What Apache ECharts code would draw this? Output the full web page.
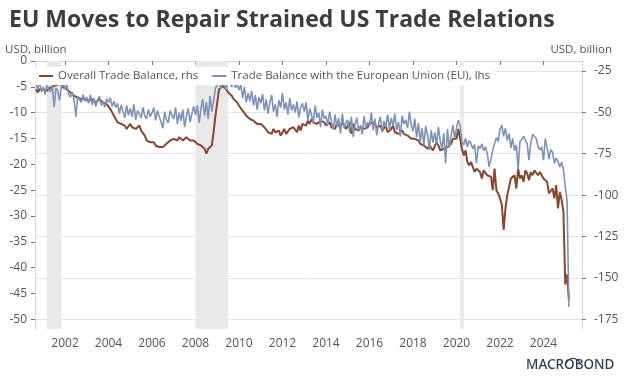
<!DOCTYPE html>
<html><head><meta charset="utf-8">
<script src="https://cdn.jsdelivr.net/npm/echarts@6/dist/echarts.min.js"></script>
<style>html,body{margin:0;padding:0;background:#fff}#c{width:624px;height:384px}</style>
</head><body><div id="c"></div>
<script>
// ---- Data ----
const titleText = 'EU Moves to Repair Strained US Trade Relations';
const unitLabel = 'USD, billion';
const seriesNames = ['Overall Trade Balance, rhs', 'Trade Balance with the European Union (EU), lhs'];
const startYear = 2000, startMonth = 9; // monthly data from Sep 2000 to Mar 2025

// Overall trade balance (rhs), USD bn, monthly
const overallTradeBalance = [
  -36, -38, -36, -37,                                              // 2000 Sep-Dec
  -36, -35, -37, -36, -35, -36, -34, -35, -33, -34, -33, -35,      // 2001
  -35, -36, -37, -38, -39, -40, -40, -41, -41, -42, -43, -42,      // 2002
  -42, -43, -44, -42, -43, -44, -43, -42, -43, -44, -43, -45,      // 2003
  -46, -48, -50, -52, -54, -56, -55, -57, -56, -58, -60, -59,      // 2004
  -57, -59, -58, -60, -59, -58, -61, -62, -64, -67, -66, -68,      // 2005
  -69, -68, -70, -69, -71, -70, -71, -70, -69, -68, -67, -66,      // 2006
  -66, -65, -67, -65, -66, -67, -66, -65, -66, -67, -68, -67,      // 2007
  -68, -69, -70, -70, -71, -72, -75, -72, -71, -70, -62, -52,      // 2008
  -44, -36, -35, -34, -35, -36, -38, -39, -40, -42, -43, -44,      // 2009
  -46, -47, -49, -50, -52, -53, -54, -53, -55, -56, -57, -58,      // 2010
  -57, -58, -59, -60, -62, -61, -63, -60, -62, -63, -61, -64,      // 2011
  -64, -60, -63, -62, -60, -61, -59, -60, -62, -58, -61, -57,      // 2012
  -56, -58, -55, -57, -54, -56, -55, -57, -56, -55, -54, -56,      // 2013
  -58, -57, -56, -59, -58, -60, -57, -58, -59, -56, -58, -60,      // 2014
  -58, -56, -63, -57, -60, -59, -61, -59, -58, -60, -61, -59,      // 2015
  -57, -58, -56, -57, -59, -60, -58, -61, -60, -58, -62, -61,      // 2016
  -60, -58, -62, -61, -63, -62, -61, -63, -62, -64, -65, -66,      // 2017
  -67, -66, -65, -67, -69, -68, -70, -71, -72, -70, -71, -73,      // 2018
  -72, -68, -70, -73, -74, -72, -73, -71, -70, -69, -66, -67,      // 2019
  -66, -60, -61, -72, -76, -73, -80, -82, -80, -81, -86, -84,      // 2020
  -83, -86, -90, -85, -86, -88, -87, -89, -97, -84, -97, -99,      // 2021
  -102, -106, -121, -108, -100, -95, -90, -91, -88, -96, -84, -90, // 2022
  -88, -92, -85, -87, -91, -86, -88, -85, -84, -88, -86, -85,      // 2023
  -90, -91, -92, -99, -98, -96, -102, -94, -108, -98, -103, -110,  // 2024
  -154, -148, -163                                                 // 2025 Jan-Mar
];

// Trade balance with the EU (lhs), USD bn, monthly
const euTradeBalance = [
  -4.5, -5.5, -4.0, -6.0,                                                        // 2000 Sep-Dec
  -5.0, -6.5, -4.5, -5.5, -6.0, -4.8, -8.9, -5.2, -5.8, -7.6, -5.0, -4.2,        // 2001
  -5.5, -4.5, -6.5, -7.0, -6.0, -7.5, -10.8, -6.8, -7.5, -8.0, -6.5, -7.8,       // 2002
  -7.0, -8.2, -6.5, -8.5, -7.2, -8.8, -7.5, -6.8, -8.6, -7.9, -8.9, -7.3,        // 2003
  -8.0, -7.2, -8.8, -7.8, -9.0, -8.2, -10.2, -8.5, -9.8, -11.0, -8.6, -10.5,     // 2004
  -9.2, -10.8, -8.4, -11.4, -9.6, -10.2, -11.0, -9.0, -10.6, -11.2, -9.4, -10.8, // 2005
  -10.0, -9.0, -11.5, -9.6, -10.8, -11.8, -13.0, -9.8, -11.4, -12.0, -9.6, -10.5,// 2006
  -11.2, -9.0, -12.2, -10.0, -11.6, -9.4, -12.8, -10.6, -9.2, -11.8, -10.2, -8.8,// 2007
  -10.4, -8.6, -12.0, -9.2, -7.4, -10.6, -8.0, -11.2, -6.8, -9.8, -7.6, -5.2,    // 2008
  -4.8, -3.6, -5.4, -3.2, -4.6, -5.6, -3.8, -4.2, -5.0, -3.4, -5.2, -4.4,        // 2009
  -5.6, -4.6, -7.2, -5.0, -8.0, -6.2, -7.8, -5.8, -8.6, -6.6, -9.4, -7.0,        // 2010
  -8.2, -6.4, -9.6, -7.4, -10.2, -8.0, -6.6, -9.8, -8.4, -10.8, -7.6, -9.0,      // 2011
  -6.2, -9.4, -8.0, -10.4, -7.2, -9.6, -8.4, -10.0, -7.8, -10.9, -9.0, -8.2,     // 2012
  -9.8, -8.0, -11.6, -9.2, -10.4, -12.2, -8.6, -11.0, -10.0, -12.8, -9.4, -11.2, // 2013
  -10.6, -12.4, -9.8, -11.8, -13.2, -10.4, -12.8, -11.0, -14.0, -10.2, -13.0, -12.0, // 2014
  -11.4, -13.8, -10.8, -14.7, -12.2, -11.0, -13.6, -12.4, -14.2, -10.6, -13.0, -11.8, // 2015
  -12.6, -10.0, -13.4, -11.2, -14.4, -12.0, -10.8, -13.8, -11.6, -12.8, -10.4, -13.2, // 2016
  -11.0, -12.6, -10.2, -13.4, -11.8, -14.6, -10.6, -12.2, -11.4, -13.0, -9.8, -12.4,  // 2017
  -13.6, -11.2, -14.8, -12.0, -15.6, -13.0, -16.4, -12.6, -14.2, -17.2, -13.4, -15.8, // 2018
  -13.8, -16.2, -12.8, -15.4, -17.0, -14.0, -19.8, -13.2, -16.8, -14.6, -12.4, -15.0, // 2019
  -13.0, -11.4, -12.5, -15.6, -16.2, -15.0, -16.6, -15.4, -16.0, -17.0, -16.2, -19.8, // 2020
  -16.4, -17.0, -16.0, -17.4, -16.6, -18.0, -20.5, -19.0, -17.2, -16.0, -14.8, -15.6, // 2021
  -13.2, -12.4, -14.6, -13.0, -15.4, -14.0, -16.8, -15.0, -17.4, -16.2, -21.0, -15.6, // 2022
  -15.2, -14.6, -14.7, -16.0, -19.2, -15.8, -14.2, -14.0, -15.0, -16.6, -17.2, -16.6, // 2023
  -19.2, -15.0, -16.8, -19.0, -17.2, -17.6, -19.8, -18.8, -19.4, -20.5, -19.6, -21.0, // 2024
  -24.3, -27.0, -47.6                                                                 // 2025 Jan-Mar
];

const leftTicks = [0, -5, -10, -15, -20, -25, -30, -35, -40, -45, -50];
const rightTicks = [-25, -50, -75, -100, -125, -150, -175];
const yearTicks = [2002, 2004, 2006, 2008, 2010, 2012, 2014, 2016, 2018, 2020, 2022, 2024];
const recessions = [['2001-03', '2001-10'], ['2008-01', '2009-06'], ['2020-03', '2020-04']];

// ---- Build ----
function monthDec(idx) { // decimal year for index idx from start
  const m0 = startYear * 12 + (startMonth - 1) + idx;
  return Math.floor(m0 / 12) + (m0 % 12) / 12;
}
function ym(s, end) {
  const [y, m] = s.split('-').map(Number);
  return y + (end ? m : m - 1) / 12;
}
const overallData = overallTradeBalance.map((v, i) => [monthDec(i), v]);
const euData = euTradeBalance.map((v, i) => [monthDec(i), v]);

const axisColor = '#d6d6d6';
const labelColor = '#555';
const fontFam = '"Open Sans", "Noto Sans", sans-serif';

const chart = echarts.init(document.getElementById('c'), null, { renderer: 'canvas' });
chart.setOption({
  animation: false,
  backgroundColor: '#fff',
  textStyle: { fontFamily: fontFam },
  title: {
    text: titleText, left: 4, top: 4,
    textStyle: { fontSize: 23, fontWeight: 'bold', color: '#3d3d3d', fontFamily: fontFam }
  },
  grid: { left: 35, right: 42, top: 61, bottom: 55, containLabel: false },
  legend: {
    left: 35, top: 67,
    backgroundColor: '#fff',
    padding: [3, 4],
    itemGap: 14, itemWidth: 14, itemHeight: 2, icon: 'rect',
    textStyle: { fontSize: 11.5, color: labelColor, fontFamily: fontFam, padding: [0, 0, 0, 0] },
    data: seriesNames
  },
  xAxis: {
    type: 'value', min: 2000.62, max: 2025.77,
    axisLine: { show: true, lineStyle: { color: axisColor } },
    axisTick: { show: true, customValues: yearTicks, length: 4, lineStyle: { color: '#777' } },
    axisLabel: { customValues: yearTicks, color: labelColor, fontSize: 12, margin: 9, formatter: v => String(v) },
    splitLine: { show: false }
  },
  yAxis: [
    {
      type: 'value', position: 'left', min: -51.88, max: 0,
      axisLine: { show: true, lineStyle: { color: axisColor } },
      axisTick: { show: true, customValues: leftTicks, length: 4, lineStyle: { color: '#777' } },
      axisLabel: { customValues: leftTicks, color: labelColor, fontSize: 12, margin: 8 },
      splitLine: { show: false }
    },
    {
      type: 'value', position: 'right', min: -180.9, max: -18.96,
      axisLine: { show: true, lineStyle: { color: axisColor } },
      axisTick: { show: true, customValues: rightTicks, length: 4, lineStyle: { color: '#777' } },
      axisLabel: { customValues: rightTicks, color: labelColor, fontSize: 12, margin: 12 },
      splitLine: { show: true, lineStyle: { color: '#e3e3e3', width: 1 } }
    }
  ],
  series: [
    {
      name: seriesNames[0], type: 'line', yAxisIndex: 1, data: overallData,
      showSymbol: false, symbol: 'none',
      lineStyle: { color: '#87472f', width: 2 }, itemStyle: { color: '#87472f' },
      markArea: {
        silent: true,
        itemStyle: { color: '#e9e9e9' },
        data: recessions.map(r => [{ xAxis: ym(r[0], false) }, { xAxis: ym(r[1], true) }])
      }
    },
    {
      name: seriesNames[1], type: 'line', yAxisIndex: 0, data: euData,
      showSymbol: false, symbol: 'none',
      lineStyle: { color: '#7d92b6', width: 1.6 }, itemStyle: { color: '#7d92b6' }
    }
  ],
  graphic: [
    { type: 'text', left: 5, top: 44, style: { text: unitLabel, fontSize: 11.5, fill: labelColor, fontFamily: fontFam } },
    { type: 'text', right: 12, top: 44, style: { text: unitLabel, fontSize: 11.5, fill: labelColor, fontFamily: fontFam } },
    { type: 'text', left: 526, top: 358, style: { text: 'MACROBOND', fontSize: 13.5, fontWeight: 500, fill: '#2d3d5a', fontFamily: '"Noto Sans", sans-serif' } },
    { type: 'arc', shape: { cx: 573, cy: 366, r: 7.5, startAngle: Math.PI * 1.12, endAngle: Math.PI * 1.88 }, style: { stroke: '#2d3d5a', fill: null, lineWidth: 1.2 } }
  ]
});
</script></body></html>
